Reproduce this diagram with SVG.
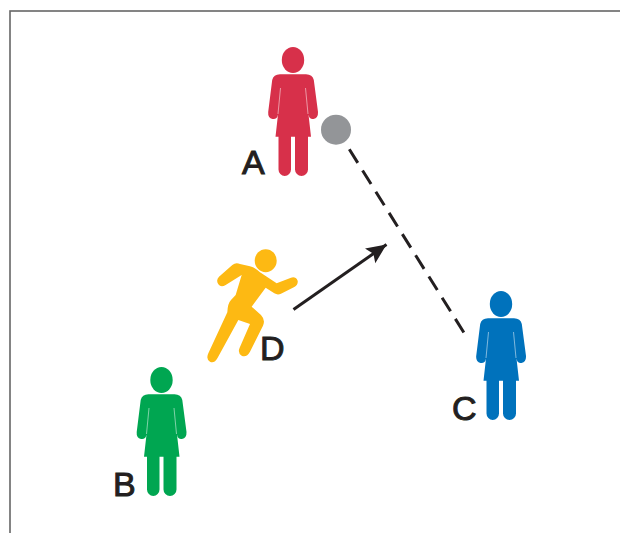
<svg xmlns="http://www.w3.org/2000/svg" width="620" height="533" viewBox="0 0 620 533">
<style>
.lbl{font-family:"Liberation Sans",Arial,sans-serif;font-size:34px;fill:#231F20;stroke:#231F20;stroke-width:1px}
.conn{stroke:#231F20;stroke-width:3;fill:none}
.slit{stroke:#fff;stroke-width:.5;fill:none}
</style>
<defs>
<marker id="head" markerUnits="userSpaceOnUse" markerWidth="26" markerHeight="22" refX="20" refY="9.500" orient="auto">
<path d="M0 .500L20 9.500L0 18.500L4 9.500Z" fill="#231F20"/>
</marker>
<g id="person">
<ellipse cx="0" cy="0" rx="11.200" ry="13"/>
<path d="M-13 14.300H13Q19.500 14.500 20.800 20L25 52Q25.300 58 20.500 59Q16.500 59.700 15.500 54.500L18 76.700H15V109.500A6.500 6.500 0 0 1 2 109.500V76.700H-2V109.500A6.250 6.500 0 0 1 -14.500 109.500V76.700H-17.500L-15 54.500Q-16 59.700 -20.500 59Q-25.300 58 -24.800 52L-20.800 20Q-19.500 14.500 -13 14.300Z"/>
<path class="slit" d="M-12.500 28L-15 54M12.500 28L15 54"/>
</g>
</defs>
<rect id="frame" x="10" y="11" width="640" height="560" fill="#fff" stroke="#666" stroke-width="1.600"/>
<g id="connectors">
<path class="conn" d="M349.300 149.300L464 332.700" stroke-dasharray="16 9"/>
<path class="conn" d="M293.500 309.500L386.500 244.500" marker-end="url(#head)"/>
</g>
<g id="node-A">
<use href="#person" x="293" y="60" fill="#D7304A"/>
<text class="lbl" x="242" y="174">A</text>
</g>
<g id="ball"><circle cx="336" cy="129.700" r="15" fill="#939598"/></g>
<g id="node-B">
<use href="#person" x="161.500" y="380" fill="#00A651"/>
<text class="lbl" x="113" y="496">B</text>
</g>
<g id="node-C">
<use href="#person" x="501" y="304" fill="#0072BC"/>
<text class="lbl" x="452" y="420">C</text>
</g>
<g id="node-D">
<ellipse cx="265.700" cy="260.700" rx="11" ry="11.500" fill="#FDB913"/>
<path transform="translate(195 235) scale(.3333)" fill="#FDB913" d="M72 125L112 90Q122 82 135 87L165 94Q180 97 195 112L245 145L288 128Q302 124 308 137Q310 150 298 156L258 176Q248 181 238 175L212 158L170 215L198 240Q212 255 204 272L165 350Q155 368 140 362Q127 354 134 338L165 267L130 255L68 368Q58 386 45 380Q32 372 40 355L97 232Q98 205 108 195L122 180L140 120L92 150Q78 158 70 148Q62 135 72 125Z"/>
<text class="lbl" x="260" y="360">D</text>
</g>
</svg>
